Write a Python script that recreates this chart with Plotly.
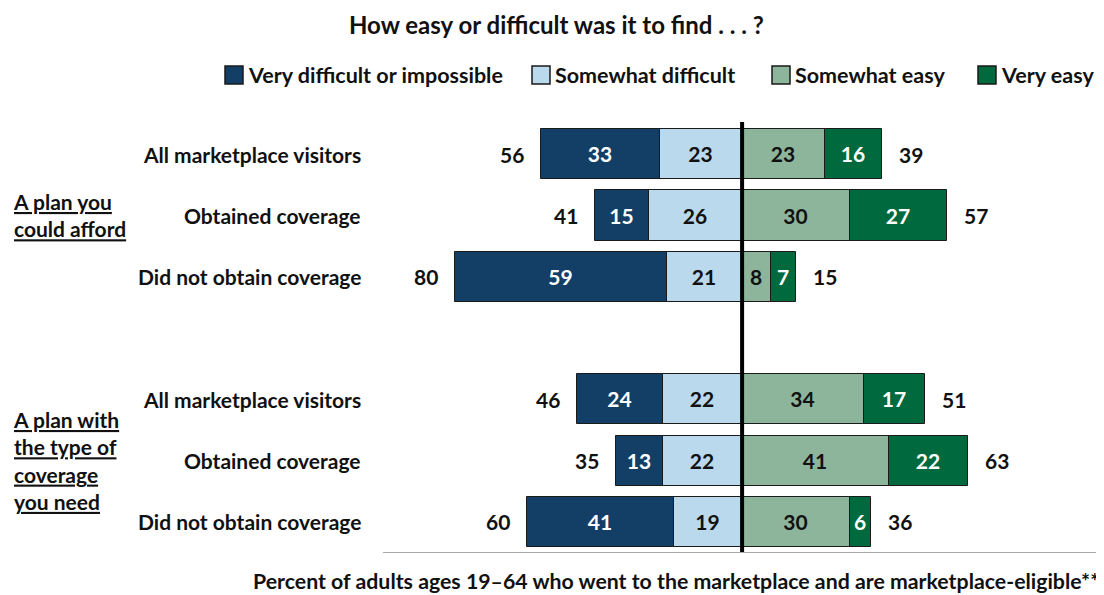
import plotly.graph_objects as go

# ---- data ----
row_labels = ["All marketplace visitors", "Obtained coverage", "Did not obtain coverage",
              "All marketplace visitors", "Obtained coverage", "Did not obtain coverage"]
row_pos = [0, 1, 2, 4, 5, 6]
very_difficult = [33, 15, 59, 24, 13, 41]
somewhat_difficult = [23, 26, 21, 22, 22, 19]
somewhat_easy = [23, 30, 8, 34, 41, 30]
very_easy = [16, 27, 7, 17, 22, 6]
total_difficult = [56, 41, 80, 46, 35, 60]
total_easy = [39, 57, 15, 51, 63, 36]
group_labels = ["A plan you<br>could afford", "A plan with<br>the type of<br>coverage<br>you need"]
group_pos = [1, 5]
series_names = ["Very difficult or impossible", "Somewhat difficult", "Somewhat easy", "Very easy"]
title = "How easy or difficult was it to find . . . ?"
caption = "Percent of adults ages 19–64 who went to the marketplace and are marketplace-eligible**"

colors = {"Very difficult or impossible": "#133f66", "Somewhat difficult": "#bad9ec",
          "Somewhat easy": "#8db59c", "Very easy": "#006a3e"}
text_colors = {"Very difficult or impossible": "white", "Somewhat difficult": "#111111",
               "Somewhat easy": "#111111", "Very easy": "white"}

FONT = "Lato"
OFF = 8  # page body margin
W, H = 1104 - OFF, 595 - OFF
PL, PR, PT, PB = 383, 1103, 124, 552
ML, MT = PL - OFF, PT - OFF
MR = W - (PR - OFF)
MB = H - (PB - OFF)
PW, PH = PR - PL, PB - PT

def px_x(px):
    return (px - PL) / PW

def px_y(py):
    return (PB - py) / PH

fig = go.Figure()

trace_specs = [
    ("Somewhat difficult", [-v for v in somewhat_difficult], somewhat_difficult),
    ("Very difficult or impossible", [-v for v in very_difficult], very_difficult),
    ("Somewhat easy", somewhat_easy, somewhat_easy),
    ("Very easy", very_easy, very_easy),
]
for name, xs, labels in trace_specs:
    fig.add_trace(go.Bar(
        y=row_pos, x=xs, orientation="h", name=name,
        marker=dict(color=colors[name], line=dict(color="#1a1a1a", width=1)),
        text=["<b>" + str(v) + "</b>" for v in labels], textposition="inside",
        insidetextanchor="middle", constraintext="none",
        textfont=dict(family=FONT, size=21, color=text_colors[name]),
        width=0.82, showlegend=False, hoverinfo="skip",
    ))

for y, tot_d, sd, vd in zip(row_pos, total_difficult, somewhat_difficult, very_difficult):
    fig.add_annotation(x=-(sd + vd), y=y, text="<b>" + str(tot_d) + "</b>", showarrow=False,
                       xanchor="right", yanchor="middle", xshift=-15,
                       font=dict(family=FONT, size=21, color="#111111"))
for y, tot_e, se, ve in zip(row_pos, total_easy, somewhat_easy, very_easy):
    fig.add_annotation(x=se + ve, y=y, text="<b>" + str(tot_e) + "</b>", showarrow=False,
                       xanchor="left", yanchor="middle", xshift=15,
                       font=dict(family=FONT, size=21, color="#111111"))

for y, lab in zip(row_pos, row_labels):
    fig.add_annotation(x=px_x(363), xref="paper", y=y, yref="y", text="<b>" + lab + "</b>",
                       showarrow=False, xanchor="right", yanchor="middle",
                       font=dict(family=FONT, size=21, color="#111111"))

for y, lab in zip(group_pos, group_labels):
    fig.add_annotation(x=px_x(11), xref="paper", y=y, yref="y",
                       text="<b><u>" + lab.replace("<br>", "</u></b><br><b><u>") + "</u></b>",
                       showarrow=False, xanchor="left", yanchor="middle", align="left",
                       font=dict(family=FONT, size=21, color="#111111"))

legend_items = [(225, series_names[0]), (532, series_names[1]), (772, series_names[2]), (978, series_names[3])]
for xpx, name in legend_items:
    fig.add_shape(type="rect", xref="paper", yref="paper",
                  x0=px_x(xpx), x1=px_x(xpx + 18), y0=px_y(84), y1=px_y(66),
                  fillcolor=colors[name], line=dict(color="#1a1a1a", width=1.5))
    fig.add_annotation(x=px_x(xpx + 21), xref="paper", y=px_y(75), yref="paper",
                       text="<b>" + name + "</b>", showarrow=False, xanchor="left", yanchor="middle",
                       font=dict(family=FONT, size=21.5, color="#111111"))

fig.add_annotation(x=px_x(556), xref="paper", y=px_y(8), yref="paper", text="<b>" + title + "</b>",
                   showarrow=False, xanchor="center", yanchor="top",
                   font=dict(family=FONT, size=24, color="#111111"))
fig.add_annotation(x=px_x(1101), xref="paper", y=px_y(581), yref="paper", text="<b>" + caption + "</b>",
                   showarrow=False, xanchor="right", yanchor="middle",
                   font=dict(family=FONT, size=21.3, color="#111111"))

fig.add_shape(type="line", xref="x", yref="paper", x0=0, x1=0, y0=0, y1=px_y(122),
              line=dict(color="black", width=4))

fig.update_layout(
    width=W, height=H, barmode="relative",
    margin=dict(l=ML, r=MR, t=MT, b=MB, autoexpand=False),
    plot_bgcolor="white", paper_bgcolor="white",
    xaxis=dict(range=[-100, 100.5], showgrid=False, zeroline=False, showticklabels=False,
               showline=True, linecolor="#aaaaaa", linewidth=1, ticks="", fixedrange=True),
    yaxis=dict(range=[6.49, -0.49], showgrid=False, zeroline=False, showticklabels=False,
               showline=False, fixedrange=True),
    bargap=0,
)

fig.write_html("out.html", config={"displayModeBar": False})
